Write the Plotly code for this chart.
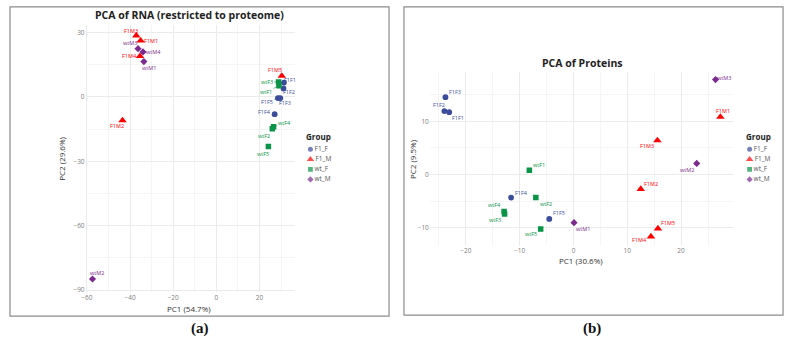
import plotly.graph_objects as go

# ---------------- data: panel (a) PCA of RNA ----------------
a_names = ["F1F1", "F1F2", "F1F3", "F1F4", "F1F5",
           "F1M1", "F1M2", "F1M3", "F1M4", "F1M5",
           "wtF1", "wtF2", "wtF3", "wtF4", "wtF5",
           "wtM1", "wtM2", "wtM3", "wtM4"]
a_group = ["F1_F"] * 5 + ["F1_M"] * 5 + ["wt_F"] * 5 + ["wt_M"] * 4
a_pc1 = [31.3, 31.1, 29.6, 27.0, 28.5,
         -35.1, -43.5, -37.1, -35.4, 30.3,
         29.0, 25.9, 28.8, 26.5, 24.1,
         -33.6, -57.4, -36.3, -34.0]
a_pc2 = [6.7, 4.0, -0.5, -8.0, -0.5,
         26.2, -10.9, 28.6, 19.0, 9.8,
         5.2, -14.8, 7.0, -13.9, -23.1,
         16.5, -84.8, 22.5, 21.0]
# label offsets (px) for repelled labels
a_lab_dx = [6, 5, 5, -10, -11, 10, -5, -5, -10, -7, -13, -8, -12, 11, -5, 5, 5, -8, 11]
a_lab_dy = [-3, 4, 5, -2, 4, 0, 6, -5, 0, -6, 6, 7, 0, -4, 7, 6, -6, -6, 0]

# ---------------- data: panel (b) PCA of Proteins ----------------
b_names = ["F1F1", "F1F2", "F1F3", "F1F4", "F1F5",
           "F1M1", "F1M2", "F1M3", "F1M4", "F1M5",
           "wtF1", "wtF2", "wtF3", "wtF4", "wtF5",
           "wtM1", "wtM2", "wtM3"]
b_group = ["F1_F"] * 5 + ["F1_M"] * 5 + ["wt_F"] * 5 + ["wt_M"] * 3
b_pc1 = [-23.1, -24.0, -23.8, -11.6, -4.5,
         27.3, 12.5, 15.6, 14.4, 15.7,
         -8.2, -7.0, -12.8, -12.9, -6.1,
         0.1, 22.9, 26.4]
b_pc2 = [11.7, 11.9, 14.5, -4.3, -8.3,
         10.8, -2.7, 6.4, -11.6, -10.1,
         0.8, -4.3, -7.4, -6.9, -10.2,
         -9.0, 2.1, 17.8]
b_lab_dx = [9, -5, 10, 10, 10, 3, 10, -10, -11, 10, 10, 10, -10, -10, -10, 9, -10, 8]
b_lab_dy = [6, -6, -5, -5, -6, -6, -5, 6, 3, -5, -5, 6, 6, -6, 5, 6, 7, -2]

groups = ["F1_F", "F1_M", "wt_F", "wt_M"]
colors = {"F1_F": "#3B4C9B", "F1_M": "#FF0000", "wt_F": "#0A9447", "wt_M": "#7B2A8E"}
symbols = {"F1_F": "circle", "F1_M": "triangle-up", "wt_F": "square", "wt_M": "diamond"}
sizes = {"F1_F": 5.8, "F1_M": 7.5, "wt_F": 5.5, "wt_M": 5.5}
leg_sizes = {"F1_F": 5, "F1_M": 6.5, "wt_F": 4.8, "wt_M": 4.8}

W, H = 789, 347
FONT = "Open Sans"

def px(xpix):
    return xpix / W

def py(ypix):
    return 1 - ypix / H

fig = go.Figure()

panels = [
    dict(names=a_names, group=a_group, x=a_pc1, y=a_pc2, dx=a_lab_dx, dy=a_lab_dy,
         xa="x", ya="y", lx="x3", ly="y3"),
    dict(names=b_names, group=b_group, x=b_pc1, y=b_pc2, dx=b_lab_dx, dy=b_lab_dy,
         xa="x2", ya="y2", lx="x4", ly="y4"),
]

annotations = []
for p in panels:
    for g in groups:
        idx = [i for i, gg in enumerate(p["group"]) if gg == g]
        fig.add_trace(go.Scatter(
            x=[p["x"][i] for i in idx], y=[p["y"][i] for i in idx],
            mode="markers", name=g, xaxis=p["xa"], yaxis=p["ya"], showlegend=False,
            marker=dict(symbol=symbols[g], color=colors[g], size=sizes[g], line=dict(width=0)),
            hovertext=[p["names"][i] for i in idx],
        ))
    for i, n in enumerate(p["names"]):
        c = colors[p["group"][i]]
        annotations.append(dict(
            x=p["x"][i], y=p["y"][i], xref=p["xa"], yref=p["ya"], text=n,
            showarrow=True, arrowhead=0, arrowwidth=0.6, arrowcolor=c, standoff=2,
            ax=p["dx"][i], ay=p["dy"][i],
            font=dict(family=FONT, size=5.5, color=c),
        ))
    # legend keys drawn on a small categorical axis
    fig.add_trace(go.Scatter(
        x=[0] * len(groups), y=groups, mode="markers+text", text=groups,
        textposition="middle right", textfont=dict(family=FONT, size=6.5, color="#555"),
        xaxis=p["lx"], yaxis=p["ly"], showlegend=False, hoverinfo="skip",
        marker=dict(symbol=[symbols[g] for g in groups], color=[colors[g] for g in groups],
                    size=[leg_sizes[g] for g in groups], line=dict(width=0)),
    ))

# titles and axis titles as text
def txt(x, y, s, size, color="#222", bold=False, angle=0, family=FONT, xanchor="center"):
    annotations.append(dict(
        x=px(x), y=py(y), xref="paper", yref="paper", showarrow=False,
        text=f"<b>{s}</b>" if bold else s, textangle=angle,
        font=dict(family=family, size=size, color=color),
        xanchor=xanchor, yanchor="middle"))

txt(186, 15, "PCA of RNA (restricted to proteome)", 10.5, bold=True)
txt(186, 310, "PC1 (54.7%)", 8, color="#333")
txt(57, 160, "PC2 (29.6%)", 8, color="#333", angle=-90)
txt(581, 63, "PCA of Proteins", 10.5, bold=True)
txt(580, 262, "PC1 (30.6%)", 8, color="#333")
txt(410, 160, "PC2 (9.5%)", 8, color="#333", angle=-90)
txt(302, 137, "Group", 8, bold=True, xanchor="left")
txt(744, 137, "Group", 8, bold=True, xanchor="left")
txt(197, 330, "(a)", 15, color="#111", family="Liberation Serif", bold=True)
txt(591, 330, "(b)", 15, color="#111", family="Liberation Serif", bold=True)

axis_common = dict(showline=False, zeroline=False, ticks="", showgrid=True,
                   gridcolor="#EBEBEB", gridwidth=0.8,
                   tickfont=dict(family=FONT, size=6.5, color="#808080"),
                   fixedrange=True)
hidden = dict(visible=False, fixedrange=True)

fig.update_layout(
    width=W, height=H, margin=dict(l=0, r=0, t=0, b=0),
    paper_bgcolor="white", plot_bgcolor="white",
    xaxis=dict(domain=[px(82), px(292)], range=[-60.6, 36.2], anchor="y",
               tickmode="linear", tick0=0, dtick=20,
               minor=dict(dtick=10, showgrid=True, gridcolor="#F5F5F5", gridwidth=0.5),
               **axis_common),
    yaxis=dict(domain=[py(294), py(25)], range=[-91.0, 33.6], anchor="x",
               tickmode="linear", tick0=0, dtick=30,
               minor=dict(dtick=15, showgrid=True, gridcolor="#F5F5F5", gridwidth=0.5),
               **axis_common),
    xaxis2=dict(domain=[px(428), px(733)], range=[-26.7, 29.7], anchor="y2",
                tickmode="linear", tick0=0, dtick=10,
                minor=dict(dtick=5, showgrid=True, gridcolor="#F5F5F5", gridwidth=0.5),
                **axis_common),
    yaxis2=dict(domain=[py(247), py(72)], range=[-13.3, 19.3], anchor="x2",
                tickmode="linear", tick0=0, dtick=10,
                minor=dict(dtick=5, showgrid=True, gridcolor="#F5F5F5", gridwidth=0.5),
                **axis_common),
    xaxis3=dict(domain=[px(303), px(353)], range=[-1, 9], anchor="y3", **hidden),
    yaxis3=dict(domain=[py(185.5), py(145)], range=[3.5, -0.5], anchor="x3",
                type="category", categoryorder="array", categoryarray=groups, **hidden),
    xaxis4=dict(domain=[px(745), px(789)], range=[-1, 9], anchor="y4", **hidden),
    yaxis4=dict(domain=[py(185.5), py(145)], range=[3.5, -0.5], anchor="x4",
                type="category", categoryorder="array", categoryarray=groups, **hidden),
    annotations=annotations,
    shapes=[
        dict(type="rect", xref="paper", yref="paper", x0=px(6), x1=px(387), y0=py(318), y1=py(7),
             line=dict(color="#8C8C8C", width=1.2)),
        dict(type="rect", xref="paper", yref="paper", x0=px(402), x1=px(783), y0=py(317), y1=py(7),
             line=dict(color="#8C8C8C", width=1.2)),
    ],
    showlegend=False,
)

fig.write_html("out.html")
